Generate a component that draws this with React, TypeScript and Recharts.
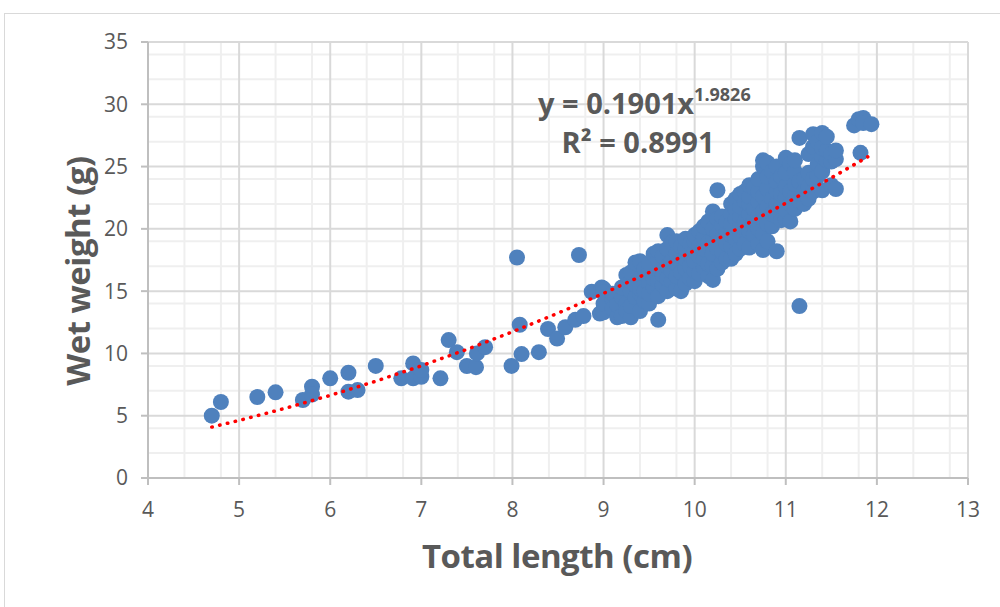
import * as React from 'react';
import { ScatterChart, Scatter, XAxis, YAxis, CartesianGrid } from 'recharts';

// total length (cm) / wet weight (g)
const lengths = [
  4.7, 4.8, 5.2, 5.4, 5.7, 5.8, 5.8, 6.0, 6.2, 6.2, 6.3, 6.5, 6.78, 6.91, 6.91, 7.0, 7.0, 7.21,
  7.3, 7.39, 7.5, 7.6, 7.61, 7.7, 7.99, 8.05, 8.08, 8.1, 8.29, 8.39, 8.49, 8.58, 8.69, 8.73, 8.78, 8.87, 8.96, 8.98,
  9.0, 9.0, 9.0, 9.0, 9.1, 9.1, 9.1, 9.15, 9.15, 9.2, 9.2, 9.2, 9.25, 9.25, 9.25,
  9.3, 9.3, 9.3, 9.3, 9.3, 9.35, 9.35, 9.35, 9.4, 9.4, 9.4, 9.4, 9.4, 9.45, 9.45, 9.45,
  9.5, 9.5, 9.5, 9.5, 9.5, 9.55, 9.55, 9.55, 9.6, 9.6, 9.6, 9.6, 9.6, 9.6, 9.65, 9.65, 9.65,
  9.7, 9.7, 9.7, 9.7, 9.7, 9.75, 9.75, 9.75, 9.75, 9.8, 9.8, 9.8, 9.8, 9.8, 9.85, 9.85, 9.85, 9.85,
  9.9, 9.9, 9.9, 9.9, 9.9, 9.95, 9.95, 9.95,
  10.0, 10.0, 10.0, 10.0, 10.0, 10.0, 10.05, 10.05, 10.05, 10.05, 10.1, 10.1, 10.1, 10.1, 10.1,
  10.15, 10.15, 10.15, 10.15, 10.2, 10.2, 10.2, 10.2, 10.2, 10.2, 10.25, 10.25, 10.25, 10.25, 10.25,
  10.3, 10.3, 10.3, 10.3, 10.3, 10.35, 10.35, 10.35, 10.35, 10.4, 10.4, 10.4, 10.4, 10.4, 10.4,
  10.45, 10.45, 10.45, 10.45, 10.45, 10.5, 10.5, 10.5, 10.5, 10.5, 10.5, 10.55, 10.55, 10.55, 10.55,
  10.6, 10.6, 10.6, 10.6, 10.6, 10.6, 10.65, 10.65, 10.65, 10.65, 10.7, 10.7, 10.7, 10.7, 10.7, 10.7,
  10.75, 10.75, 10.75, 10.75, 10.75, 10.75, 10.8, 10.8, 10.8, 10.8, 10.8, 10.8, 10.85, 10.85, 10.85, 10.85,
  10.9, 10.9, 10.9, 10.9, 10.9, 10.9, 10.95, 10.95, 10.95, 10.95, 11.0, 11.0, 11.0, 11.0, 11.0, 11.0,
  11.05, 11.05, 11.05, 11.05, 11.1, 11.1, 11.1, 11.1, 11.1, 11.15, 11.15, 11.15, 11.15, 11.2, 11.2, 11.2,
  11.25, 11.25, 11.25, 11.25, 11.3, 11.3, 11.3, 11.3, 11.35, 11.35, 11.35, 11.4, 11.4, 11.4, 11.4, 11.4,
  11.45, 11.45, 11.45, 11.5, 11.5, 11.5, 11.55, 11.55, 11.55, 11.75, 11.8, 11.82, 11.85, 11.85, 11.94,
];
const weights = [
  5.0, 6.1, 6.5, 6.88, 6.26, 7.33, 6.7, 8.0, 8.45, 6.93, 7.06, 9.0, 8.0, 9.2, 8.0, 8.13, 8.67, 8.0,
  11.07, 10.1, 8.99, 8.9, 10.0, 10.5, 9.0, 17.7, 12.3, 9.95, 10.1, 11.96, 11.2, 12.1, 12.7, 17.9, 13.0, 14.95, 13.2, 15.3,
  15.2, 14.9, 13.3, 14.0, 14.3, 13.6, 14.8, 12.9, 13.9, 13.0, 14.5, 15.3, 16.3, 14.0, 13.4,
  12.9, 15.0, 15.8, 16.5, 13.8, 17.3, 14.5, 15.5, 17.4, 13.4, 14.8, 16.0, 15.2, 16.8, 14.2, 15.0,
  14.0, 15.6, 16.5, 17.2, 14.8, 15.3, 16.0, 18.0, 12.7, 14.6, 15.8, 16.8, 17.5, 18.2, 15.5, 16.3, 17.8,
  19.5, 15.0, 16.0, 17.0, 18.4, 15.8, 16.6, 18.9, 17.4, 15.2, 16.2, 17.2, 18.0, 19.0, 15.0, 16.5, 17.8, 18.6,
  15.6, 16.8, 17.6, 18.4, 19.2, 16.0, 17.0, 18.8,
  15.8, 16.6, 17.4, 18.2, 19.0, 19.5, 16.4, 17.8, 18.6, 19.8, 16.9, 17.6, 18.4, 19.3, 20.2,
  16.2, 17.2, 18.9, 20.6, 15.9, 17.0, 18.0, 19.0, 20.0, 21.4, 16.8, 18.4, 19.6, 20.8, 23.1,
  17.3, 18.2, 19.2, 20.3, 21.0, 17.6, 18.8, 19.8, 20.6, 17.6, 18.6, 19.5, 20.4, 21.2, 22.0,
  18.0, 19.2, 20.8, 21.6, 22.4, 18.4, 19.4, 20.2, 21.0, 21.8, 22.8, 18.8, 20.6, 22.2, 23.0,
  18.5, 19.8, 21.2, 22.0, 22.6, 23.5, 19.5, 20.8, 21.6, 23.3, 18.8, 20.0, 21.0, 22.2, 23.0, 24.0,
  18.3, 19.6, 21.4, 22.6, 25.0, 25.5, 19.0, 20.4, 21.8, 23.2, 24.2, 25.3, 20.2, 21.2, 22.4, 24.6,
  18.2, 21.0, 22.0, 23.0, 23.8, 25.0, 20.7, 21.8, 22.8, 24.2, 20.8, 21.5, 22.5, 23.4, 24.5, 25.7,
  20.6, 22.0, 23.0, 25.2, 21.6, 22.6, 23.6, 24.6, 25.5, 13.8, 22.2, 23.8, 27.3, 22.0, 23.0, 24.0,
  22.4, 23.4, 24.5, 26.0, 23.0, 24.0, 26.6, 27.6, 24.2, 25.2, 27.0, 23.1, 24.6, 25.8, 26.5, 27.7,
  25.5, 26.3, 27.4, 23.5, 25.4, 26.0, 23.2, 25.6, 26.3, 28.3, 28.8, 26.1, 28.9, 28.5, 28.4,
];

// power trendline as printed on the chart: y = 0.1901x^1.9826
const trendA = 0.1901;
const trendB = 1.9826;
const trendX = [4.7, 5, 5.5, 6, 6.5, 7, 7.5, 8, 8.5, 9, 9.5, 10, 10.5, 11, 11.5, 11.9];

const xTicks = [4, 5, 6, 7, 8, 9, 10, 11, 12, 13];
const yTicks = [0, 5, 10, 15, 20, 25, 30, 35];

const points = lengths.map((x, i) => ({ x, y: weights[i] }));
const trend = trendX.map((x) => ({ x, y: trendA * Math.pow(x, trendB) }));

// minor gridlines: 5 steps inside every major interval
const minor = (ticks: number[]) => {
  const out: number[] = [];
  for (let i = 0; i < ticks.length - 1; i++) {
    const step = (ticks[i + 1] - ticks[i]) / 5;
    for (let k = 1; k < 5; k++) out.push(+(ticks[i] + step * k).toFixed(2));
  }
  return out;
};

const font = '"Open Sans", sans-serif';
const textGrey = '#595959';
const blue = '#4F81BD';

const Dot = (props: any) => <circle cx={props.cx} cy={props.cy} r={8} fill={blue} />;
const NoDot = () => <g />;

const eqStyle: React.CSSProperties = {
  position: 'absolute', left: 538, width: 200, textAlign: 'center', color: textGrey,
  fontWeight: 700, fontSize: 29, lineHeight: '36px', whiteSpace: 'nowrap',
};
const titleStyle: React.CSSProperties = {
  textAlign: 'center', color: textGrey, fontWeight: 700, fontSize: 33, letterSpacing: -0.5,
  lineHeight: '40px', whiteSpace: 'nowrap',
};

export default function App() {
  return (
    <div style={{ position: 'absolute', left: 0, top: 0, width: 1000, height: 607, overflow: 'hidden', background: '#fff', fontFamily: font }}>
      <div style={{ position: 'absolute', left: 4, top: 13, width: 1200, height: 800, border: '1px solid #d9d9d9' }} />
      <div style={{ position: 'absolute', left: 0, top: 0 }}>
        <ScatterChart width={1000} height={607} margin={{ top: 42, right: 32, bottom: 89, left: 88 }}>
          <CartesianGrid
            stroke="#efefef"
            strokeWidth={2}
            horizontalValues={minor(yTicks)}
            verticalValues={minor(xTicks)}
          />
          <CartesianGrid stroke="#d9d9d9" strokeWidth={2} />
          <XAxis
            type="number"
            dataKey="x"
            domain={[4, 13]}
            ticks={xTicks}
            height={40}
            stroke="#bfbfbf"
            strokeWidth={2}
            tickSize={7}
            tickMargin={17}
            tick={{ fill: textGrey, fontSize: 21, fontFamily: font }}
          />
          <YAxis
            type="number"
            dataKey="y"
            domain={[0, 35]}
            ticks={yTicks}
            width={60}
            stroke="#bfbfbf"
            strokeWidth={2}
            tickSize={7}
            tickMargin={13}
            tick={{ fill: textGrey, fontSize: 21, fontFamily: font }}
          />
          <Scatter data={points} shape={Dot} isAnimationActive={false} />
          <Scatter
            data={trend}
            shape={NoDot}
            line={{ stroke: '#ff0000', strokeWidth: 3.5, strokeDasharray: '0.5 7.5', strokeLinecap: 'round' }}
            lineType="joint"
            isAnimationActive={false}
          />
        </ScatterChart>
      </div>
      <div style={{ ...eqStyle, top: 85 }}>
        y = 0.1901x<span style={{ fontSize: 18, position: 'relative', top: -13 }}>1.9826</span>
      </div>
      <div style={{ ...eqStyle, top: 124 }}>
        R² = 0.8991
      </div>
      <div style={{ ...titleStyle, position: 'absolute', left: 357, top: 536, width: 400 }}>
        Total length (cm)
      </div>
      <div style={{ position: 'absolute', left: 78, top: 271, width: 0, height: 0 }}>
        <div style={{ ...titleStyle, position: 'absolute', left: -200, top: -20, width: 400, height: 40, transform: 'rotate(-90deg)' }}>
          Wet weight (g)
        </div>
      </div>
    </div>
  );
}
